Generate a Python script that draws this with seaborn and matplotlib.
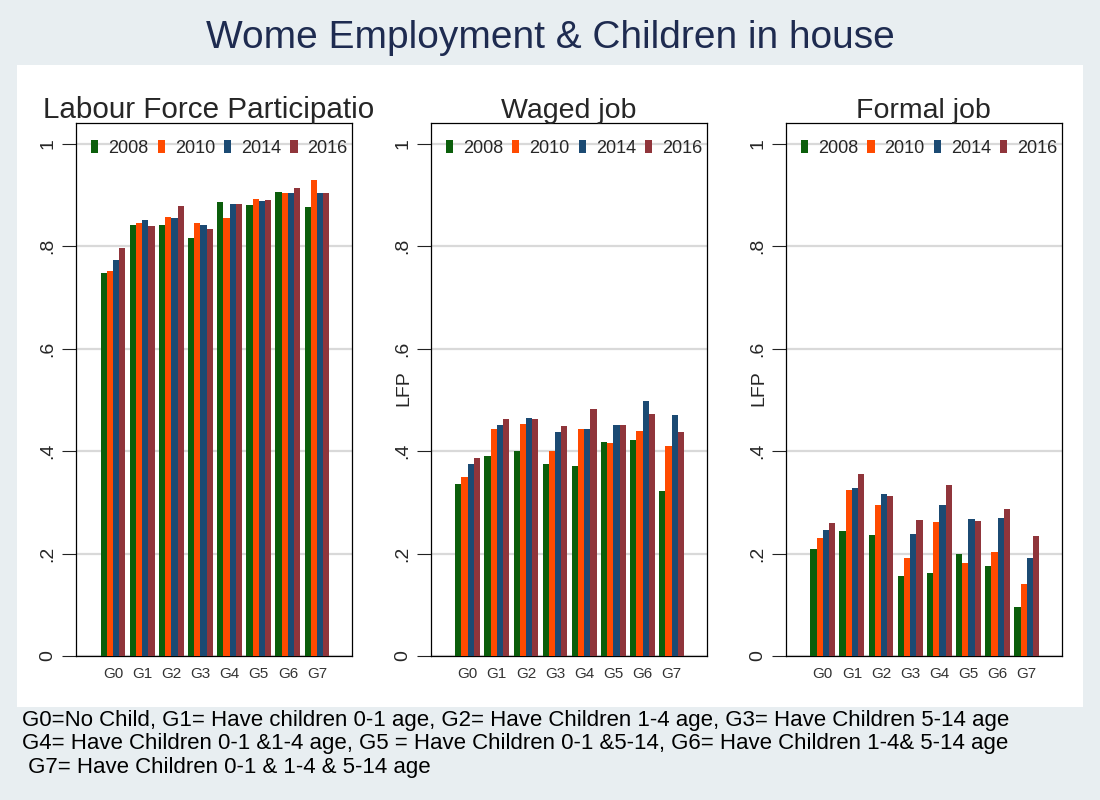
import numpy as np
import pandas as pd
import matplotlib
matplotlib.use("Agg")
import matplotlib.pyplot as plt
import seaborn as sns
from matplotlib.patches import Patch, Rectangle
from matplotlib.transforms import Bbox, TransformedBbox

sns.set_style("white")
plt.rcParams['font.family'] = ['Liberation Sans', 'DejaVu Sans']

groups = ["G0", "G1", "G2", "G3", "G4", "G5", "G6", "G7"]
years = ["2008", "2010", "2014", "2016"]

# Labour force participation
lfp_2008 = [0.748, 0.842, 0.842, 0.815, 0.887, 0.881, 0.906, 0.877]
lfp_2010 = [0.752, 0.846, 0.856, 0.846, 0.854, 0.893, 0.903, 0.930]
lfp_2014 = [0.772, 0.852, 0.854, 0.842, 0.883, 0.889, 0.903, 0.903]
lfp_2016 = [0.797, 0.840, 0.879, 0.834, 0.883, 0.891, 0.914, 0.904]

# Waged job
wag_2008 = [0.335, 0.390, 0.400, 0.374, 0.370, 0.417, 0.421, 0.323]
wag_2010 = [0.349, 0.444, 0.453, 0.401, 0.444, 0.415, 0.440, 0.409]
wag_2014 = [0.374, 0.450, 0.464, 0.438, 0.444, 0.450, 0.497, 0.470]
wag_2016 = [0.386, 0.462, 0.462, 0.448, 0.483, 0.450, 0.472, 0.438]

# Formal job
frm_2008 = [0.209, 0.244, 0.237, 0.156, 0.162, 0.199, 0.176, 0.095]
frm_2010 = [0.231, 0.324, 0.294, 0.191, 0.262, 0.182, 0.203, 0.141]
frm_2014 = [0.246, 0.327, 0.317, 0.238, 0.295, 0.268, 0.270, 0.191]
frm_2016 = [0.260, 0.356, 0.313, 0.266, 0.333, 0.264, 0.286, 0.235]

panel_titles = ["Labour Force Participation", "Waged job", "Formal job"]
panel_data = [
    [lfp_2008, lfp_2010, lfp_2014, lfp_2016],
    [wag_2008, wag_2010, wag_2014, wag_2016],
    [frm_2008, frm_2010, frm_2014, frm_2016],
]

colors = ["#0b5e0b", "#ff4a00", "#1b4a73", "#90353b"]
title_color = "#1e2b50"
bg = "#e8eef1"

fig = plt.figure(figsize=(11, 8), dpi=100, facecolor=bg)
fig.patches.append(Rectangle((0.0155, 0.116), 0.969, 0.803, transform=fig.transFigure,
                             facecolor="white", edgecolor="none", zorder=-10))

fig.text(0.5, 0.953, "Wome Employment & Children in house", ha="center", va="center",
         fontsize=28, color=title_color)

lefts = [0.0691, 0.3915, 0.7143]
for i, (left, title, series) in enumerate(zip(lefts, panel_titles, panel_data)):
    ax = fig.add_axes([left, 0.18, 0.2509, 0.666])
    rows = []
    for y, vals in zip(years, series):
        for g, v in zip(groups, vals):
            rows.append({"group": g, "year": y, "value": v})
    df = pd.DataFrame(rows)
    sns.barplot(data=df, x="group", y="value", hue="year", hue_order=years,
                order=groups, palette=colors, width=0.85, gap=0, saturation=1,
                edgecolor="none", linewidth=0, errorbar=None, ax=ax, legend=False, zorder=3)
    ax.set_xlim(-1.27, 8.2)
    ax.set_ylim(0, 1.04)
    ax.set_yticks([0, 0.2, 0.4, 0.6, 0.8, 1.0])
    ax.set_yticklabels(["0", ".2", ".4", ".6", ".8", "1"], rotation=90, va="center",
                       fontsize=14)
    ax.yaxis.grid(True, color="#d9d9d9", linewidth=1.6, zorder=0)
    ax.set_axisbelow(True)
    ax.tick_params(axis="y", length=10, width=0.8, left=True, pad=4, color="#222222")
    ax.tick_params(axis="x", length=0, labelsize=11, pad=8, labelcolor="#333333")
    for s in ax.spines.values():
        s.set_visible(True)
        s.set_color("black")
        s.set_linewidth(0.9)
    ax.set_xlabel("")
    if i == 0:
        ax.set_ylabel("")
        t = ax.set_title(title, fontsize=21.3, pad=4, loc="left", x=-0.12)
        t.set_clip_box(TransformedBbox(Bbox([[0, 0], [373 / 1100, 1]]), fig.transFigure))
        t.set_clip_on(True)
    else:
        ax.set_ylabel("LFP", fontsize=14)
        ax.yaxis.set_label_coords(-0.097, 0.503)
        ax.yaxis.label.set_va("center")
        ax.set_title(title, fontsize=20.5, pad=4)
    handles = [Patch(facecolor=c, edgecolor="none") for c in colors]
    ax.legend(handles, years, ncol=4, frameon=False, loc="center left",
              bbox_to_anchor=(0.055, 0.953), fontsize=13, handlelength=0.4,
              handleheight=0.7, handletextpad=0.55, columnspacing=0.5,
              borderpad=0, borderaxespad=0)

foot = ("G0=No Child, G1= Have children 0-1 age, G2= Have Children 1-4 age, G3= Have Children 5-14 age\n"
        "G4= Have Children 0-1 &1-4 age, G5 = Have Children 0-1 &5-14, G6= Have Children 1-4& 5-14 age\n"
        " G7= Have Children 0-1 & 1-4 & 5-14 age")
fig.text(0.02, 0.113, foot, ha="left", va="top", fontsize=16, linespacing=1.18, color="black")

fig.savefig("out.png", dpi=100, facecolor=bg)
